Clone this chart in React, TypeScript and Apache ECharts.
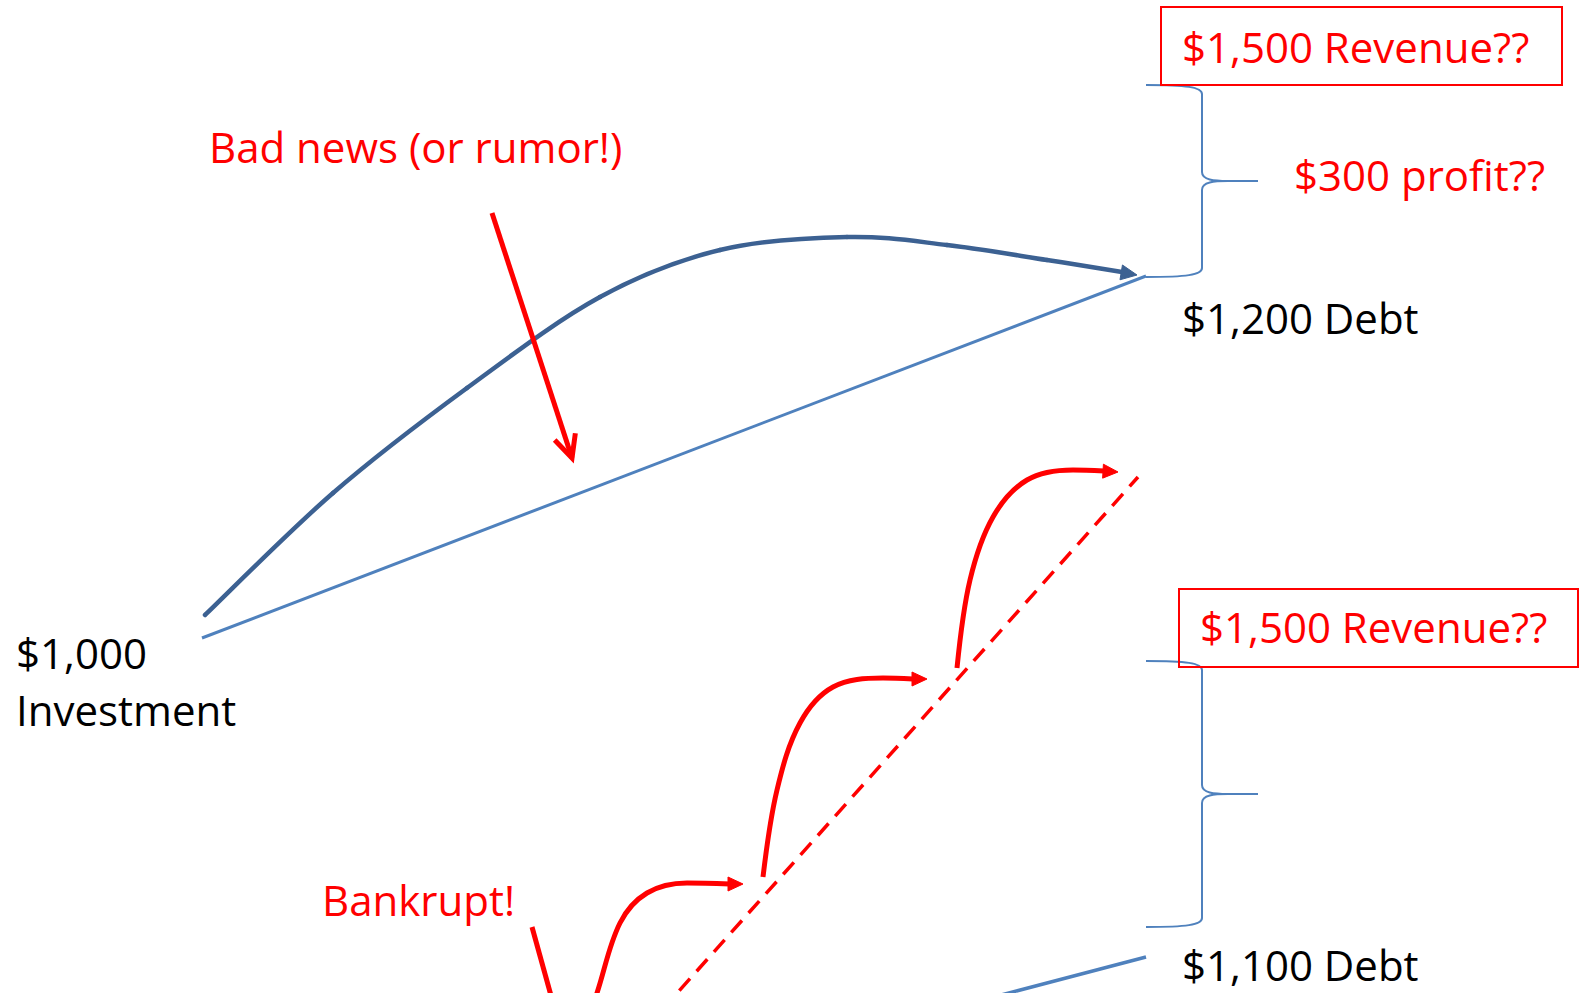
import React, { useEffect, useRef } from "react";
import * as echarts from "echarts";

// Diagram space: x runs 0..1580 to the right, y runs 0..993 downwards.
const X_RANGE = [0, 1580];
const Y_RANGE = [0, 993];

// ---- Labels ----
const labelTexts = [
  "$1,500 Revenue??",
  "$300 profit??",
  "Bad news (or rumor!)",
  "$1,200 Debt",
  "$1,000",
  "Investment",
  "$1,500 Revenue??",
  "Bankrupt!",
  "$1,100 Debt",
];
// left edge / text baseline of each label, in diagram units
const labelAnchors = [
  [1182, 62],
  [1294, 190],
  [209, 162],
  [1182, 333],
  [16, 668],
  [16, 725],
  [1200, 642],
  [322, 915],
  [1182, 980],
];
const labelIsAlert = [true, true, true, false, false, false, true, true, false];

// ---- Strokes ----
const topDebtLine = [
  [202, 638],
  [1146, 276],
];
const growthCurve = [
  [205, 615],
  [333, 493],
  [467, 388],
  [600, 297],
  [720, 250],
  [847, 237],
  [947, 245],
  [1047, 260],
  [1122, 272],
];
const bottomDebtLine = [
  [940, 1011],
  [1146, 957],
];
const badNewsArrow = [
  [492, 213],
  [572, 458],
];
const bankruptArrow = [
  [532, 927],
  [555, 1010],
];
const riseCurve1 = [
  [591, 1010],
  [597, 993],
  [620, 923],
  [647, 893],
  [687, 883],
  [730, 884],
];
const riseCurve2 = [
  [763, 877],
  [777, 790],
  [800, 723],
  [833, 687],
  [883, 678],
  [913, 679],
];
const riseCurve3 = [
  [957, 668],
  [970, 580],
  [993, 517],
  [1027, 480],
  [1073, 470],
  [1104, 471],
];
const trendDashed = [
  [662, 1010],
  [1138, 477],
];

// ---- Arrow heads: [tipX, tipY, fromX, fromY] ----
const growthHead = [[1137, 275, 1110, 270.5]];
const riseHeads = [
  [743, 884, 725, 884],
  [927, 679, 910, 679],
  [1118, 472, 1100, 471],
];
const badNewsHead = [[572, 458, 492, 213]];

// ---- Braces: [leftX, spineX, tipX, topY, midY, bottomY] ----
const braces = [
  [1146, 1202, 1258, 85, 181, 277],
  [1146, 1202, 1258, 661, 794, 927],
];

// ---- Boxes: [x0, y0, x1, y1] ----
const boxes = [
  [1161, 7, 1562, 85],
  [1179, 589, 1578, 667],
];

const DARK_BLUE = "#3C6192";
const LIGHT_BLUE = "#4F81BD";
const RED = "#FF0000";
const FONT = "'Open Sans', 'Noto Sans', sans-serif";
const FONT_SIZE = 42;

function lineSeries(data: number[][], color: string, width: number, smooth: number | boolean, dashed?: number[]) {
  return {
    type: "line",
    data,
    smooth,
    showSymbol: false,
    symbol: "none",
    silent: true,
    clip: false,
    lineStyle: {
      color,
      width,
      type: dashed ? dashed : "solid",
      cap: "butt",
    },
    z: 2,
  };
}

// Catmull-Rom spline through the points, one cubic segment per data item.
function splineSeries(points: number[][], color: string, width: number) {
  return {
    type: "custom",
    silent: true,
    clip: false,
    data: points,
    z: 2,
    renderItem: (p: any, api: any) => {
      const i = p.dataIndex;
      const n = points.length;
      if (i >= n - 1) return { type: "group", children: [] };
      const c = (k: number) => api.coord(points[Math.max(0, Math.min(n - 1, k))]);
      const p0 = c(i - 1);
      const p1 = c(i);
      const p2 = c(i + 1);
      const p3 = c(i + 2);
      return {
        type: "bezierCurve",
        shape: {
          x1: p1[0],
          y1: p1[1],
          cpx1: p1[0] + (p2[0] - p0[0]) / 6,
          cpy1: p1[1] + (p2[1] - p0[1]) / 6,
          cpx2: p2[0] - (p3[0] - p1[0]) / 6,
          cpy2: p2[1] - (p3[1] - p1[1]) / 6,
          x2: p2[0],
          y2: p2[1],
        },
        style: { stroke: color, lineWidth: width, fill: "none", lineCap: "round" },
      };
    },
  };
}

function filledHeadSeries(data: number[][], color: string, len: number, half: number) {
  return {
    type: "custom",
    silent: true,
    clip: false,
    data,
    z: 3,
    renderItem: (_p: any, api: any) => {
      const tip = api.coord([api.value(0), api.value(1)]);
      const from = api.coord([api.value(2), api.value(3)]);
      const a = Math.atan2(tip[1] - from[1], tip[0] - from[0]);
      const bx = tip[0] - len * Math.cos(a);
      const by = tip[1] - len * Math.sin(a);
      const px = -Math.sin(a) * half;
      const py = Math.cos(a) * half;
      return {
        type: "polygon",
        shape: { points: [tip, [bx + px, by + py], [bx - px, by - py]] },
        style: { fill: color, stroke: color, lineWidth: 1 },
      };
    },
  };
}

function openHeadSeries(data: number[][], color: string, len: number, spread: number, width: number) {
  return {
    type: "custom",
    silent: true,
    clip: false,
    data,
    z: 3,
    renderItem: (_p: any, api: any) => {
      const tip = api.coord([api.value(0), api.value(1)]);
      const from = api.coord([api.value(2), api.value(3)]);
      const back = Math.atan2(from[1] - tip[1], from[0] - tip[0]);
      const a1 = back + spread;
      const a2 = back - spread;
      return {
        type: "polyline",
        shape: {
          points: [
            [tip[0] + len * Math.cos(a1), tip[1] + len * Math.sin(a1)],
            tip,
            [tip[0] + len * Math.cos(a2), tip[1] + len * Math.sin(a2)],
          ],
        },
        style: { stroke: color, lineWidth: width, fill: "none", lineJoin: "miter", lineCap: "butt" },
      };
    },
  };
}

export default function App() {
  const ref = useRef<HTMLDivElement>(null);

  useEffect(() => {
    document.body.style.margin = "0";
    const el = ref.current;
    if (!el) return;
    const chart = echarts.init(el, undefined, { renderer: "svg" });

    const option: any = {
      animation: false,
      backgroundColor: "#ffffff",
      grid: { left: 0, right: 0, top: 0, bottom: 0, containLabel: false },
      xAxis: { type: "value", min: X_RANGE[0], max: X_RANGE[1], show: false },
      yAxis: { type: "value", min: Y_RANGE[0], max: Y_RANGE[1], inverse: true, show: false },
      tooltip: { show: false },
      series: [
        lineSeries(topDebtLine, LIGHT_BLUE, 3, false),
        splineSeries(growthCurve, DARK_BLUE, 4.5),
        lineSeries(bottomDebtLine, LIGHT_BLUE, 3.5, false),
        lineSeries(badNewsArrow, RED, 5, false),
        lineSeries(bankruptArrow, RED, 5, false),
        lineSeries(riseCurve1, RED, 5, 0.35),
        lineSeries(riseCurve2, RED, 5, 0.35),
        lineSeries(riseCurve3, RED, 5, 0.35),
        lineSeries(trendDashed, RED, 3.5, false, [16, 10]),
        filledHeadSeries(growthHead, DARK_BLUE, 16, 7.5),
        filledHeadSeries(riseHeads, RED, 15, 7),
        openHeadSeries(badNewsHead, RED, 25, 0.45, 5),
        {
          type: "custom",
          silent: true,
          clip: false,
          data: braces,
          z: 2,
          renderItem: (_p: any, api: any) => {
            const L = api.coord([api.value(0), api.value(3)]);
            const S = api.coord([api.value(1), api.value(4)]);
            const T = api.coord([api.value(2), api.value(4)]);
            const B = api.coord([api.value(0), api.value(5)]);
            const lx = L[0];
            const sx = S[0];
            const tx = T[0];
            const y0 = L[1];
            const ym = S[1];
            const y1 = B[1];
            const r = 9;
            const style = { stroke: LIGHT_BLUE, lineWidth: 2, fill: "none" };
            return {
              type: "group",
              children: [
                {
                  type: "bezierCurve",
                  shape: { x1: lx, y1: y0, cpx1: lx + 40, cpy1: y0, cpx2: sx, cpy2: y0 + 2, x2: sx, y2: y0 + r },
                  style,
                },
                { type: "line", shape: { x1: sx, y1: y0 + r, x2: sx, y2: ym - r }, style },
                {
                  type: "bezierCurve",
                  shape: { x1: sx, y1: ym - r, cpx1: sx, cpy1: ym - 1, cpx2: sx + 12, cpy2: ym, x2: sx + 26, y2: ym },
                  style,
                },
                { type: "line", shape: { x1: sx + 26, y1: ym, x2: tx, y2: ym }, style },
                {
                  type: "bezierCurve",
                  shape: { x1: sx + 26, y1: ym, cpx1: sx + 12, cpy1: ym, cpx2: sx, cpy2: ym + 1, x2: sx, y2: ym + r },
                  style,
                },
                { type: "line", shape: { x1: sx, y1: ym + r, x2: sx, y2: y1 - r }, style },
                {
                  type: "bezierCurve",
                  shape: { x1: sx, y1: y1 - r, cpx1: sx, cpy1: y1 - 2, cpx2: lx + 40, cpy2: y1, x2: lx, y2: y1 },
                  style,
                },
              ],
            };
          },
        },
        {
          type: "custom",
          silent: true,
          clip: false,
          data: boxes,
          z: 4,
          renderItem: (_p: any, api: any) => {
            const a = api.coord([api.value(0), api.value(1)]);
            const b = api.coord([api.value(2), api.value(3)]);
            return {
              type: "rect",
              shape: { x: a[0], y: a[1], width: b[0] - a[0], height: b[1] - a[1] },
              style: { stroke: RED, lineWidth: 2, fill: "rgba(255,255,255,0)" },
            };
          },
        },
        {
          type: "custom",
          silent: true,
          clip: false,
          data: labelAnchors,
          z: 5,
          renderItem: (p: any, api: any) => {
            const pt = api.coord([api.value(0), api.value(1)]);
            const i = p.dataIndex;
            return {
              type: "text",
              x: pt[0],
              y: pt[1] - FONT_SIZE * 0.37,
              style: {
                text: labelTexts[i],
                fill: labelIsAlert[i] ? RED : "#000000",
                fontSize: FONT_SIZE,
                fontFamily: FONT,
                align: "left",
                verticalAlign: "middle",
              },
            };
          },
        },
      ],
    };

    chart.setOption(option);
    return () => {
      chart.dispose();
    };
  }, []);

  return (
    <div
      ref={ref}
      style={{ position: "absolute", left: 0, top: 0, width: 1580, height: 993, background: "#fff" }}
    />
  );
}
